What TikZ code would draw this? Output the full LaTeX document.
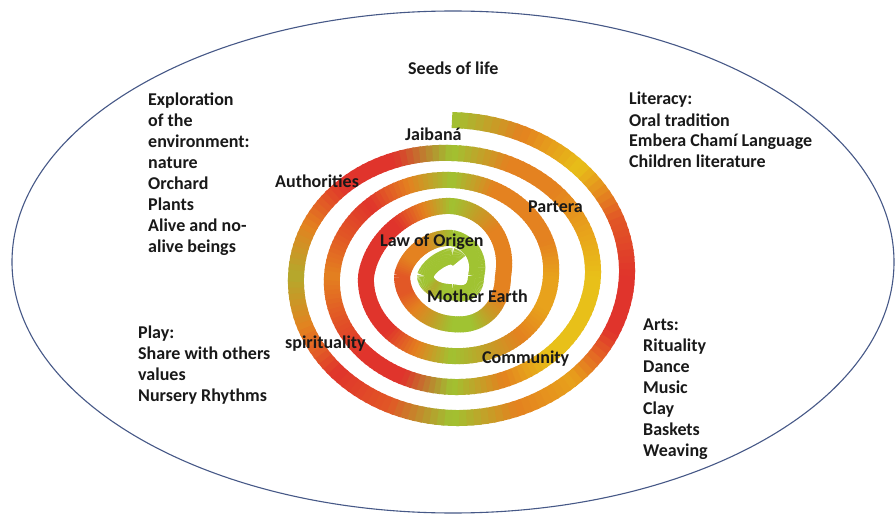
\documentclass[tikz,border=0pt]{standalone}
\usepackage{fontspec}
\setmainfont{Carlito}
\definecolor{txt}{RGB}{25,25,25}
\definecolor{rim}{RGB}{70,88,135}
\def\RXarr{{194,175,156,141,120,99,86,51,50,24,27,8,5,5}}
\def\RYarr{{156,142,123,111,96,80,70,48,38,16,20,6,4,4}}
\def\PalR{{160,228,232,224,180,196,232,226}}
\def\PalG{{195,130,192,52,170,158,162,88}}
\def\PalB{{50,32,25,44,45,40,28,38}}
\def\Codes{{0,1,2,7,3,3,6,1,0,7,3,1,4,1,3,3,0,1,1,6,2,2,2,1,0,3,3,7,1,7,3,1,0,1,1,1,6,6,1,5,0,1,3,3,3,3,3,1,0,5,1,1,1,1,5,0,0,5,1,7,7,1,1,5,0,0,0,0,0,0,0,0,0,0,4,0,0,0,0,0,0,0,0,0,0,0,0,0}}
\newcommand\SpPt[3]{%
 \pgfmathtruncatemacro\SpI{floor((#1+90)/180)}%
 \pgfmathsetmacro\SpF{(#1+90)/180-\SpI}%
 \pgfmathtruncatemacro\SpIn{\SpI+1}%
 \pgfmathsetmacro\SpRx{\RXarr[\SpI]*(1-\SpF)+\RXarr[\SpIn]*\SpF}%
 \pgfmathtruncatemacro\SpJ{floor(#1/180)}%
 \pgfmathsetmacro\SpG{#1/180-\SpJ}%
 \pgfmathtruncatemacro\SpJn{\SpJ+1}%
 \pgfmathsetmacro\SpRy{\RYarr[\SpJ]*(1-\SpG)+\RYarr[\SpJn]*\SpG}%
 \pgfmathsetmacro#2{452+\SpRx*sin(#1)}%
 \pgfmathsetmacro#3{276-\SpRy*cos(#1)}%
}
\tikzset{
 lbl/.style={font=\bfseries\fontsize{18}{21}\selectfont, text=txt, inner sep=0pt, align=left, anchor=base west},
 band/.style={line width=16pt, line cap=butt},
 rimline/.style={draw=rim, line width=1.1pt}
}
\begin{document}
\begin{tikzpicture}[x=1pt,y=-1pt]
\useasboundingbox (0,0) rectangle (895,516);
\fill[white] (0,0) rectangle (895,516);
\draw[rimline] (453,262) ellipse [x radius=441pt, y radius=251pt];
% spiral band
\foreach \n in {0,...,731}{
 \pgfmathsetmacro\pa{\n*2.5}
 \pgfmathsetmacro\pb{min(\n*2.5+3.5,1830)}
 \pgfmathsetmacro\pmid{\n*2.5+1.25}
 \SpPt{\pa}{\xa}{\ya}
 \SpPt{\pb}{\xb}{\yb}
 \pgfmathtruncatemacro\Ck{floor(\pmid/22.5)}
 \pgfmathsetmacro\Cf{\pmid/22.5-\Ck}
 \pgfmathtruncatemacro\Ckn{\Ck+1}
 \pgfmathtruncatemacro\CA{\Codes[\Ck]}
 \pgfmathtruncatemacro\CB{\Codes[\Ckn]}
 \pgfmathtruncatemacro\cR{\PalR[\CA]*(1-\Cf)+\PalR[\CB]*\Cf}
 \pgfmathtruncatemacro\cG{\PalG[\CA]*(1-\Cf)+\PalG[\CB]*\Cf}
 \pgfmathtruncatemacro\cB{\PalB[\CA]*(1-\Cf)+\PalB[\CB]*\Cf}
 \definecolor{segc}{RGB}{\cR,\cG,\cB}
 \draw[band, draw=segc] (\xa,\ya) -- (\xb,\yb);
}
% labels (multi-line nodes are anchored at the baseline of their last line)
\node[lbl] (seeds) at (408,75) {Seeds of life};
\node[lbl] (explore) at (148,252) {Exploration\\of the\\environment:\\nature\\Orchard\\Plants\\Alive and no-\\alive beings};
\node[lbl] (literacy) at (629,168) {Literacy:\\Oral tradition\\Embera Chamí Language\\Children literature};
\node[lbl] (play) at (138,401) {Play:\\Share with others\\values\\Nursery Rhythms};
\node[lbl] (arts) at (643,456) {Arts:\\Rituality\\Dance\\Music\\Clay\\Baskets\\Weaving};
\node[lbl] (jaibana) at (405,141) {Jaibaná};
\node[lbl] (auth) at (275,188) {Authorities};
\node[lbl] (partera) at (528,212) {Partera};
\node[lbl] (law) at (380,247) {Law of Origen};
\node[lbl] (mother) at (427,302) {Mother Earth};
\node[lbl] (spirit) at (285,348) {spirituality};
\node[lbl] (community) at (482,363) {Community};
\end{tikzpicture}
\end{document}
